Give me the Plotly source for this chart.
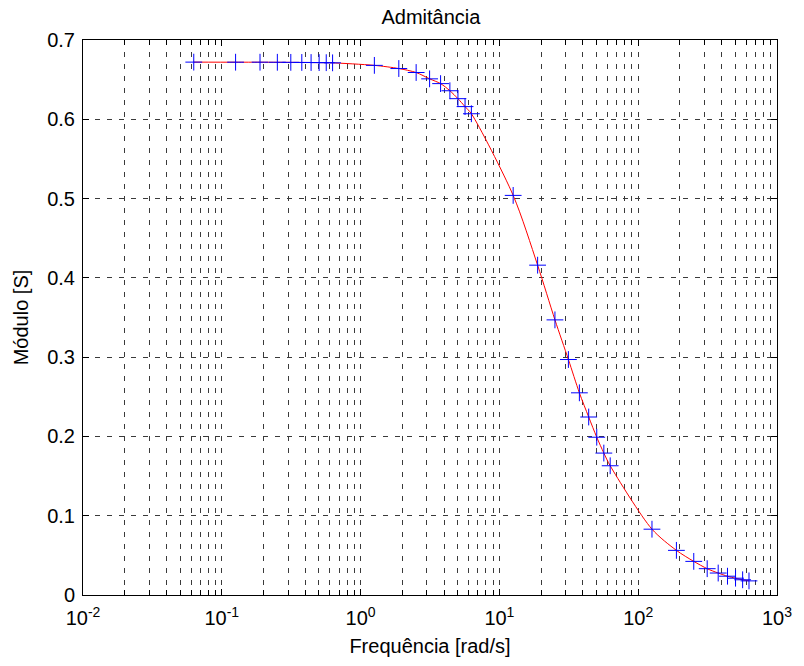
import plotly.graph_objects as go

# Frequency samples (rad/s) and admittance magnitude (S)
freq_rad_s = [0.0628, 0.1257, 0.1885, 0.2513, 0.3142, 0.3770, 0.4398, 0.5027, 0.5655, 0.6283,
              1.2566, 1.8850, 2.5133, 3.1416, 3.7699, 4.3982, 5.0265, 5.6549, 6.2832,
              12.566, 18.850, 25.133, 31.416, 37.699, 43.982, 50.265, 56.549, 62.832,
              125.66, 188.50, 251.33, 314.16, 376.99, 439.82, 502.65, 565.49, 628.32]
modulo_S = [0.6721, 0.6720, 0.6720, 0.6719, 0.6718, 0.6717, 0.6716, 0.6715, 0.6714, 0.6712,
            0.668, 0.664, 0.659, 0.651, 0.645, 0.636, 0.626, 0.616, 0.607,
            0.504, 0.416, 0.347, 0.297, 0.255, 0.2245, 0.199, 0.179, 0.163,
            0.083, 0.0563, 0.0424, 0.0332, 0.0277, 0.0237, 0.0212, 0.0192, 0.0178]

x_major = [1e-2, 1e-1, 1e0, 1e1, 1e2, 1e3]
x_major_text = ["10<sup>-2</sup>", "10<sup>-1</sup>", "10<sup>0</sup>",
                "10<sup>1</sup>", "10<sup>2</sup>", "10<sup>3</sup>"]
x_minor = [m * d for d in [1e-2, 1e-1, 1e0, 1e1, 1e2] for m in range(2, 10)]
y_ticks = [0, 0.1, 0.2, 0.3, 0.4, 0.5, 0.6, 0.7]
y_text = ["0", "0.1", "0.2", "0.3", "0.4", "0.5", "0.6", "0.7"]

FONT = "Liberation Sans, Arial, Helvetica, sans-serif"
GRID = "#3a3a3a"
DASH = "5px,7px"

fig = go.Figure()
fig.add_trace(go.Scatter(
    x=freq_rad_s, y=modulo_S, mode="lines",
    line=dict(color="red", width=1, shape="spline", smoothing=0.8),
    hoverinfo="skip", showlegend=False))
fig.add_trace(go.Scatter(
    x=freq_rad_s, y=modulo_S, mode="markers",
    marker=dict(symbol="cross-thin", size=12, color="blue",
                line=dict(color="blue", width=1)),
    showlegend=False))

fig.update_layout(
    width=804, height=666,
    margin=dict(l=83, r=18, t=40, b=71),
    paper_bgcolor="white", plot_bgcolor="white",
    font=dict(family=FONT, size=20, color="black"),
    title=dict(text="Admitância", x=0.536, xanchor="center", y=0.985, yanchor="top",
               font=dict(family=FONT, size=20, color="black")),
)

fig.update_xaxes(
    type="log", range=[-2, 3],
    tickmode="array", tickvals=x_major, ticktext=x_major_text,
    tickfont=dict(size=20), ticklabelstandoff=5,
    ticks="inside", ticklen=6, tickcolor="black", tickwidth=1,
    showline=True, linecolor="black", linewidth=1, mirror="ticks",
    showgrid=True, gridcolor=GRID, gridwidth=1, griddash=DASH,
    minor=dict(tickmode="array", tickvals=x_minor, ticks="inside", ticklen=5,
               tickcolor="black", showgrid=True, gridcolor=GRID, gridwidth=1,
               griddash=DASH),
    zeroline=False,
    title=dict(text="Frequência [rad/s]", font=dict(size=20), standoff=10),
)
fig.update_yaxes(
    range=[0, 0.7],
    tickmode="array", tickvals=y_ticks, ticktext=y_text,
    tickfont=dict(size=20), ticklabelstandoff=3,
    ticks="inside", ticklen=6, tickcolor="black", tickwidth=1,
    showline=True, linecolor="black", linewidth=1, mirror="ticks",
    showgrid=True, gridcolor=GRID, gridwidth=1, griddash=DASH,
    zeroline=False,
    title=dict(text="Módulo [S]", font=dict(size=20), standoff=13),
)

fig.write_html("out.html")
